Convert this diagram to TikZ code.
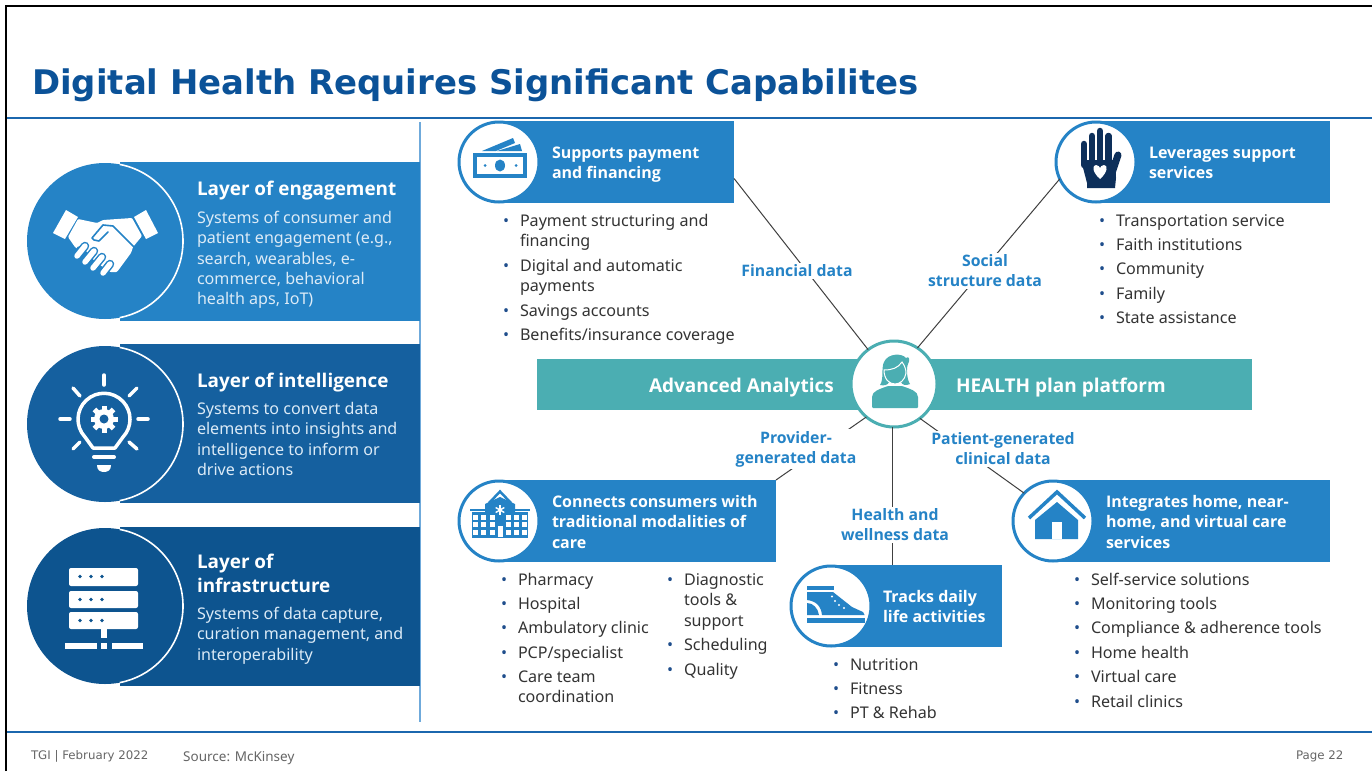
\documentclass[tikz,border=0pt]{standalone}
\usepackage{fontspec}
\setmainfont{Noto Sans}
\newfontfamily\verd{DejaVu Sans}
\IfFontExistsTF{Open Sans Bold}{\newfontfamily\bfam{Open Sans Bold}}{\newfontfamily\bfam{Noto Sans}[FakeBold=1.5]}
\usetikzlibrary{calc}
\definecolor{blueA}{HTML}{2583C6}
\definecolor{blueB}{HTML}{15609F}
\definecolor{blueC}{HTML}{0D548F}
\definecolor{rulecol}{HTML}{1B67AE}
\definecolor{vline}{HTML}{6FAADB}
\definecolor{titlecol}{HTML}{0B5298}
\definecolor{tealc}{HTML}{4BAEB2}
\definecolor{navy}{HTML}{0D2F5A}
\definecolor{bodytxt}{HTML}{DCEBF7}
\definecolor{listtxt}{HTML}{333333}
\definecolor{linkcol}{HTML}{404040}
\definecolor{foot}{HTML}{666666}
\definecolor{bulcol}{HTML}{1F4E8C}
\newcommand\blt[4]{\node[listitem] (#1) at (#2,#3) {\makebox[17pt][l]{\textcolor{bulcol}{•}}\begin{tabular}[t]{@{}l@{}}#4\end{tabular}};}
\tikzset{
 x=1pt,y=-1pt,
 listitem/.style={anchor=base west,inner sep=0,outer sep=0,text=listtxt,font=\fontsize{16.1}{20.7}\selectfont},
 disc/.style={circle,inner sep=0,outer sep=0,minimum size=156pt},
 icondisc/.style={circle,inner sep=0,outer sep=0,minimum size=80pt,draw=blueA,line width=3pt,fill=white},
 headbox/.style={rectangle,anchor=north west,inner sep=0,outer sep=0,fill=blueA,minimum height=82pt},
 layerhead/.style={anchor=base west,inner sep=0,outer sep=0,text=white,align=left,font=\bfam\fontsize{18.9}{24}\selectfont},
 layerbody/.style={anchor=base west,inner sep=0,outer sep=0,text=bodytxt,align=left,font=\fontsize{16.1}{20.4}\selectfont},
 boxhead/.style={anchor=base west,inner sep=0,outer sep=0,text=white,font=\bfam\fontsize{16}{20.5}\selectfont},
 datalabel/.style={inner sep=2pt,outer sep=0,fill=white,text=blueA,align=center,font=\bfam\fontsize{15.8}{20}\selectfont},
 link/.style={draw=linkcol,line width=1pt},
 wline/.style={draw=white,line cap=round},
 bandtext/.style={anchor=base west,inner sep=0,outer sep=0,text=white,font=\bfam\fontsize{19}{24}\selectfont},
 footv/.style={anchor=base west,inner sep=0,outer sep=0,text=foot,font=\verd\fontsize{11.8}{14}\selectfont},
}
\newcommand\tl[2]{\begin{tabular}[t]{@{}l@{}}#1\\#2\end{tabular}}
\begin{document}
\begin{tikzpicture}
\useasboundingbox (0,0) rectangle (1372,771);
\fill[white] (0,0) rectangle (1372,771);
% frame
\draw[black,line width=2pt] (6,771) -- (6,6) -- (1372,6);
\draw[rulecol,line width=2pt] (7,117.5) -- (1372,117.5);
\draw[rulecol,line width=2pt] (7,732) -- (1372,732);
\draw[vline,line width=1.5pt] (420,122) -- (420,722);
\node[anchor=base west,inner sep=0,text=titlecol,font=\verd\fontsize{33.9}{40}\selectfont\bfseries] (title) at (32,94) {Digital Health Requires Significant Capabilites};
% left bands
\fill[blueA] (120,162) rectangle (420,321);
\fill[blueB] (120,344) rectangle (420,503);
\fill[blueC] (120,527) rectangle (420,686);
\node[disc,fill=blueA] (c1) at (105,241) {};
\node[disc,fill=blueB] (c2) at (105,424) {};
\node[disc,fill=blueC] (c3) at (105,606) {};
\foreach \c in {c1,c2,c3}{
 \draw[white,line width=1.6pt] (\c.79) arc[start angle=-79,end angle=79,radius=78];
}
% handshake
\fill[white] (53,233) -- (66,210) -- (78,217) -- (65,239) -- cycle;
\fill[white] (134,217) -- (146,210) -- (158,233) -- (146,239) -- cycle;
\fill[white,rounded corners=1pt] (68,237) -- (78,219) -- (97,223) -- (103,220) -- (132,218) -- (142,236) -- (133,247) -- (131,253) -- (117,272) -- (110,272) -- (75,247) -- cycle;
\draw[blueA,line width=1.6pt,line join=round,line cap=round] (134,247) -- (113,226) -- (103,225) -- (92,238) -- (94,240) -- (99,241) -- (108,232);
\draw[blueA,line width=8pt,line cap=round] (80,250) -- (95,268);
\foreach \a/\b/\d/\e in {77/256/85/246, 85/262/94/251, 93/268/102/257, 103/273/110/264}{
 \draw[blueA,line width=8.5pt,line cap=round] (\a,\b) -- (\d,\e);
 \draw[white,line width=5.5pt,line cap=round] (\a,\b) -- (\d,\e);
}
% bulb
\draw[white,line width=3.5pt,line join=round] (93,448) -- (85,437) arc[start angle=137,end angle=403,radius=26] -- (115,448) -- cycle;
\fill[white] (104,419) circle[radius=10];
\foreach \a in {0,45,...,315}{ \fill[white,rotate around={\a:(104,419)}] (101.5,405.5) rectangle (106.5,411); }
\fill[blueB] (104,419) circle[radius=4.5];
\foreach \a/\b/\d/\e in {104/375/104/385, 60/419/70/419, 138/419/148/419, 73/388/80/396, 137/388/129/396, 73/449/80/442, 137/449/129/442}{
 \draw[wline,line width=3.5pt] (\a,\b) -- (\d,\e);
}
\draw[wline,line width=4pt] (94,457) -- (114,457);
\fill[white] (97,465) -- (111,465) .. controls (111,470) and (108,472) .. (104,472) .. controls (100,472) and (97,470) .. (97,465) -- cycle;
% server
\foreach \y/\h in {568/18, 591/17, 612/17}{
 \fill[white,rounded corners=2pt] (69,\y) rectangle (138,\y+\h);
 \foreach \x in {80,91,102}{ \fill[blueC] (\x,\y+8.5) circle[radius=1.8]; }
}
\fill[white] (101,629) rectangle (107,638);
\fill[white] (65,643) rectangle (97,649);
\fill[white] (101,643) rectangle (107,649);
\fill[white] (112,643) rectangle (143,649);
% left text
\node[layerhead] (h1) at (197,195) {Layer of engagement};
\node[layerbody,anchor=north west] (b1) at (197,211) {Systems of consumer and\\patient engagement (e.g.,\\search, wearables, e-\\commerce, behavioral\\health aps, IoT)};
\node[layerhead] (h2) at (197,387) {Layer of intelligence};
\node[layerbody,anchor=north west] (b2) at (197,402) {Systems to convert data\\elements into insights and\\intelligence to inform or\\drive actions};
\node[layerhead,anchor=north west] (h3) at (197,554) {Layer of\\infrastructure};
\node[layerbody,anchor=north west] (b3) at (197,607) {Systems of data capture,\\curation management, and\\interoperability};
% hub band
\fill[tealc] (537,359) rectangle (1252,410);
\node[bandtext] (aa) at (649,392) {Advanced Analytics};
\node[bandtext] (hp) at (956,392) {HEALTH plan platform};
% header boxes
\node[headbox,minimum width=234pt] (box1) at (500,121) {};
\node[headbox,minimum width=233pt] (box2) at (1097,121) {};
\node[headbox,minimum width=276pt] (box3) at (500,480) {};
\node[headbox,minimum width=171pt] (box4) at (831,565) {};
\node[headbox,minimum width=276pt] (box5) at (1054,480) {};
\node[icondisc] (i1) at (499,162) {};
\node[icondisc] (i2) at (1096,162) {};
\node[icondisc] (i3) at (499,521) {};
\node[icondisc] (i4) at (831,606) {};
\node[icondisc] (i5) at (1053,521) {};
\node[circle,inner sep=0,outer sep=0,minimum size=86pt,draw=tealc,line width=3pt,fill=white] (hub) at (894,384) {};
% connectors
\draw[link] (hub.127) -- (box1.-8.7);
\draw[link] (hub.57) -- (i2.205);
\draw[link] (hub.230) -- (box3.north east);
\draw[link] (hub.-92) -- (hub.-92 |- box4.north);
\draw[link] (hub.-53) -- (i5.136);
% box text
\node[boxhead] (t1) at (552,158) {\tl{Supports payment}{and financing}};
\node[boxhead] (t2) at (1149,158) {\tl{Leverages support}{services}};
\node[boxhead] (t3) at (552,507) {\begin{tabular}[t]{@{}l@{}}Connects consumers with\\traditional modalities of\\care\end{tabular}};
\node[boxhead] (t4) at (883,602) {\tl{Tracks daily}{life activities}};
\node[boxhead] (t5) at (1106,507) {\begin{tabular}[t]{@{}l@{}}Integrates home, near-\\home, and virtual care\\services\end{tabular}};
% data labels
\node[datalabel] (d1) at (797,271) {Financial data};
\node[datalabel] (d2) at (985,271) {Social\\structure data};
\node[datalabel] (d3) at (796,449) {Provider-\\generated data};
\node[datalabel] (d4) at (1003,449) {Patient-generated\\clinical data};
\node[datalabel] (d5) at (895,525) {Health and\\wellness data};
% lists
\blt{a1}{503}{226}{Payment structuring and\\financing}
\blt{a2}{503}{271}{Digital and automatic\\payments}
\blt{a3}{503}{316}{Savings accounts}
\blt{a4}{503}{340}{Benefits/insurance coverage}
\blt{e1}{1099}{226}{Transportation service}
\blt{e2}{1099}{250}{Faith institutions}
\blt{e3}{1099}{274}{Community}
\blt{e4}{1099}{299}{Family}
\blt{e5}{1099}{323}{State assistance}
\blt{f1}{501}{585}{Pharmacy}
\blt{f2}{501}{609}{Hospital}
\blt{f3}{501}{633}{Ambulatory clinic}
\blt{f4}{501}{658}{PCP/specialist}
\blt{f5}{501}{682}{Care team\\coordination}
\blt{g1}{667}{585}{Diagnostic\\tools \&\\support}
\blt{g2}{667}{650}{Scheduling}
\blt{g3}{667}{675}{Quality}
\blt{k1}{833}{670}{Nutrition}
\blt{k2}{833}{694}{Fitness}
\blt{k3}{833}{718}{PT \& Rehab}
\blt{m1}{1074}{585}{Self-service solutions}
\blt{m2}{1074}{609}{Monitoring tools}
\blt{m3}{1074}{633}{Compliance \& adherence tools}
\blt{m4}{1074}{658}{Home health}
\blt{m5}{1074}{682}{Virtual care}
\blt{m6}{1074}{707}{Retail clinics}
% money icon
\fill[blueA] (473,153) rectangle (527,178);
\fill[white] (477,157) rectangle (523,174);
\fill[blueA] (500,165.5) ellipse[x radius=5,y radius=6];
\fill[blueA] (485,165.5) circle[radius=1.5];
\fill[blueA] (516,165.5) circle[radius=1.5];
\fill[blueA] (482,151) -- (513,138) -- (515,143) -- (496,151) -- cycle;
\fill[blueA] (497,151) -- (520,144) -- (522,151) -- cycle;
% hand icon
\foreach \x/\t in {1084/144, 1092/136, 1100/131, 1108.5/136}{
 \draw[navy,line width=6.5pt,line cap=round] (\x,\t) -- (\x,165);
}
\draw[navy,line width=7pt,line cap=round] (1118,155) -- (1111,176);
\fill[navy] (1081,160) -- (1115,160) -- (1116,178) -- (1115,188) -- (1087,188) -- (1087,183) -- cycle;
\fill[white] (1100,179) .. controls (1092,172) and (1092,165) .. (1096,165) .. controls (1098,165) and (1100,167) .. (1100,168) .. controls (1100,167) and (1102,165) .. (1104,165) .. controls (1108,165) and (1108,172) .. (1100,179) -- cycle;
% hospital icon
\draw[blueA,line width=2.5pt,line join=miter] (489,503) -- (500,491.5) -- (511,503);
\fill[blueA] (470,509) rectangle (530,511);
\fill[blueA] (472,512) rectangle (528,538);
\fill[blueA] (485,504) -- (500,497) -- (515,504) -- (515,512) -- (485,512) -- cycle;
\foreach \x in {475,483,492,508,516,524}{ \foreach \y in {517,524,532}{ \fill[white] (\x-2.5,\y-2.5) rectangle (\x+2.5,\y+2.5); } }
\fill[white] (497.5,526) rectangle (502.5,537);
\foreach \a in {0,60,120}{ \draw[white,line width=1.4pt,rotate around={\a:(500,510)}] (500,505) -- (500,515); }
% boot icon
\fill[blueA] (807,586) rectangle (834,589.5);
\fill[blueA] (807,592) -- (833,592) -- (852,607) -- (863,612) -- (864.5,615) -- (822,615) .. controls (821,606) and (816,601) .. (807,600) -- cycle;
\fill[blueA] (807,603) .. controls (813,603) and (818,608) .. (819,615) -- (807,615) -- cycle;
\fill[blueA] (807,618) rectangle (864.5,623);
\fill[white] (832,596.5) circle[radius=1.1];
\fill[white] (835,601) circle[radius=1.1];
\fill[white] (839,605) circle[radius=1.1];
\fill[white] (844,608) circle[radius=1.1];
% house icon
\draw[blueA,line width=3.5pt,line join=miter] (1029,518) -- (1057,492) -- (1085,518);
\fill[blueA] (1035,539) -- (1035,520) -- (1057,502) -- (1078,520) -- (1078,539) -- cycle;
\fill[white] (1052,522) rectangle (1062,539);
% person icon
\fill[tealc,rounded corners=1pt] (872,408) -- (872,398) .. controls (872,391) and (880,389) .. (888,386) -- (902,386) .. controls (910,389) and (918,391) .. (918,398) -- (918,408) -- cycle;
\fill[tealc] (880,385) .. controls (884,380) and (881,368) .. (884,362) .. controls (888,353) and (902,353) .. (906,358) .. controls (908,356) and (911,358) .. (908,364) .. controls (906,368) and (907,380) .. (910,384) .. controls (906,386) and (902,385) .. (901,382) -- (889,382) .. controls (888,385) and (884,386) .. (880,385) -- cycle;
\draw[white,line width=1pt,fill=tealc] (884,370) .. controls (892,370) and (898,368) .. (902,362) .. controls (905,366) and (906,370) .. (906,373) .. controls (905,380) and (900,384) .. (895,384) .. controls (889,384) and (884,379) .. (884,370) -- cycle;
% footer
\node[footv] (f-a) at (31,759) {TGI | February 2022};
\node[anchor=base west,inner sep=0,text=foot,font=\fontsize{13.5}{16}\selectfont] (f-b) at (183,761.5) {Source: McKinsey};
\node[footv] (f-c) at (1296,759) {Page 22};
\end{tikzpicture}
\end{document}
